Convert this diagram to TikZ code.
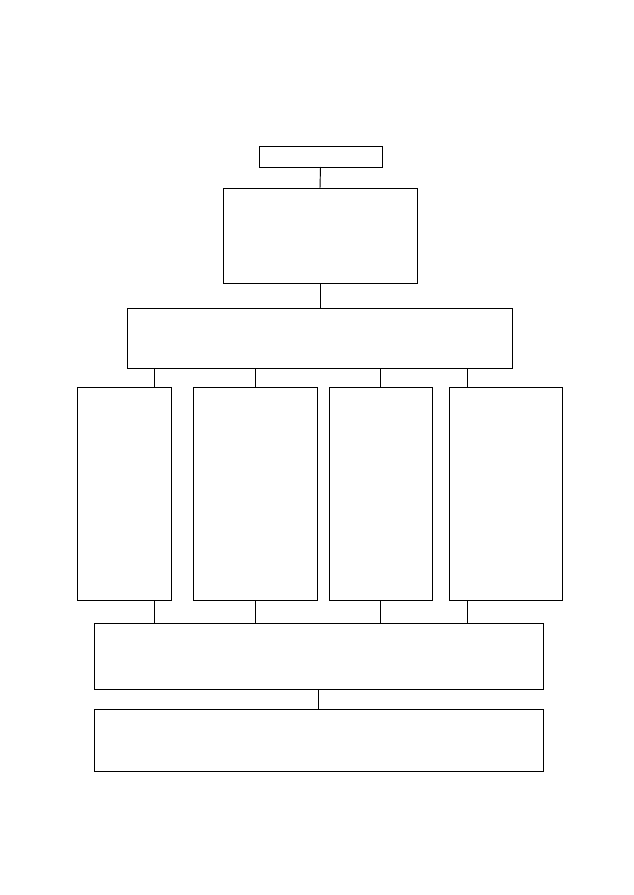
\documentclass[tikz,border=0pt]{standalone}
\usepackage{tikz}

\begin{document}
\begin{tikzpicture}[%
      x=0.03cm, y=-0.03cm,
      line width=0.8pt,
      box/.style={draw, inner sep=0pt, outer sep=0pt},
      ]
      \useasboundingbox (0,0) rectangle (633,895);

      \node [box, minimum width=3.69cm, minimum height=0.63cm] (top) at (320.5,156.5) {};
      \node [box, minimum width=5.82cm, minimum height=2.85cm] (upper) at (320,235.5) {};
      \node [box, minimum width=11.55cm, minimum height=1.8cm] (wide) at (319.5,338) {};

      \node [box, minimum width=2.82cm, minimum height=6.39cm] (colA) at (124,493.5) {};
      \node [box, minimum width=3.72cm, minimum height=6.39cm] (colB) at (255,493.5) {};
      \node [box, minimum width=3.09cm, minimum height=6.39cm] (colC) at (380.5,493.5) {};
      \node [box, minimum width=3.39cm, minimum height=6.39cm] (colD) at (505.5,493.5) {};

      \node [box, minimum width=13.47cm, minimum height=1.98cm] (lower) at (318.5,656) {};
      \node [box, minimum width=13.47cm, minimum height=1.86cm] (bottom) at (318.5,740) {};

      \draw (top.south) -- (upper.north);
      \draw (upper.south) -- (upper.south |- wide.north);

      \draw ([xshift=-0.51cm]colA.north east) -- ([xshift=-0.51cm]colA.north east |- wide.south);
      \draw (colB.north) -- (colB.north |- wide.south);
      \draw (colC.north) -- (colC.north |- wide.south);
      \draw ([xshift=0.54cm]colD.north west) -- ([xshift=0.54cm]colD.north west |- wide.south);

      \draw ([xshift=-0.51cm]colA.south east) -- ([xshift=-0.51cm]colA.south east |- lower.north);
      \draw (colB.south) -- (colB.south |- lower.north);
      \draw (colC.south) -- (colC.south |- lower.north);
      \draw ([xshift=0.54cm]colD.south west) -- ([xshift=0.54cm]colD.south west |- lower.north);

      \draw (lower.south) -- (bottom.north);
      \end{tikzpicture}
\end{document}
